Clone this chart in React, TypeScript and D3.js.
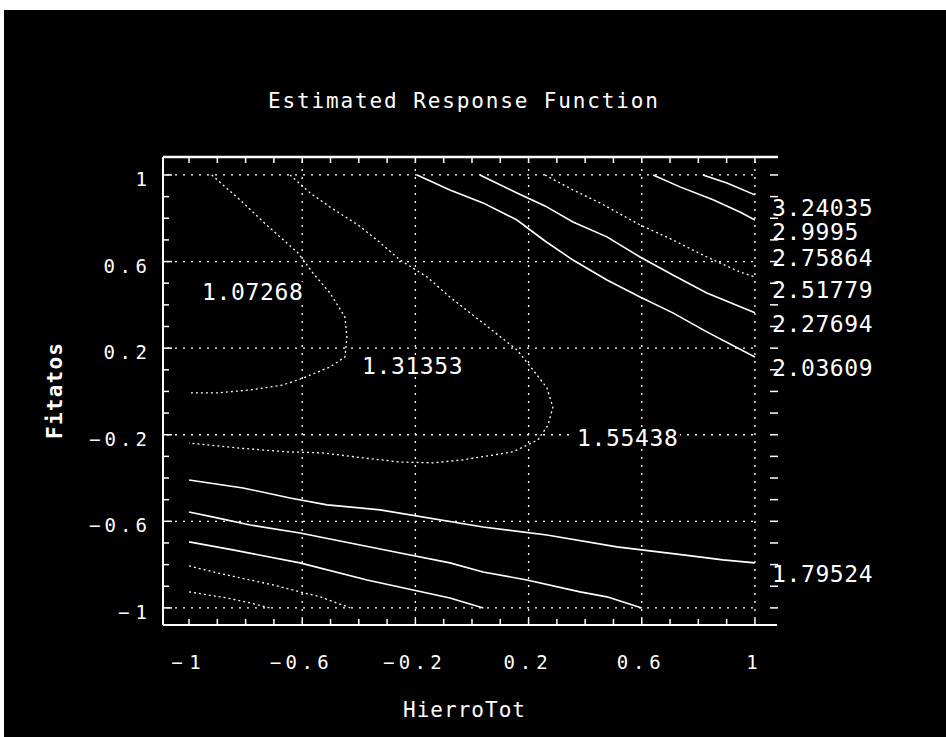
import * as d3 from 'd3';

// Axis ticks
const xTickValues = [-1, -0.6, -0.2, 0.2, 0.6, 1];
const yTickValues = [1, 0.6, 0.2, -0.2, -0.6, -1];
const xGridValues = [-0.6, -0.2, 0.2, 0.6, 1];
const yGridValues = [1, 0.6, 0.2, -0.2, -0.6, -1];
const minorTickValues = [-1, -0.9, -0.8, -0.7, -0.6, -0.5, -0.4, -0.3, -0.2, -0.1, 0, 0.1, 0.2, 0.3, 0.4, 0.5, 0.6, 0.7, 0.8, 0.9, 1];

// Contour traces: [HierroTot, Fitatos]
const contourA: [number, number][] = [
  [-0.92, 1.0], [-0.82, 0.885], [-0.73, 0.774], [-0.615, 0.64], [-0.562, 0.547], [-0.502, 0.455],
  [-0.449, 0.344], [-0.442, 0.252], [-0.449, 0.159], [-0.502, 0.113], [-0.597, 0.062], [-0.668, 0.03],
  [-0.784, 0.007], [-0.901, -0.007], [-1.0, -0.007],
];
const contourB: [number, number][] = [
  [-0.643, 1.0], [-0.572, 0.917], [-0.502, 0.852], [-0.403, 0.769], [-0.336, 0.7], [-0.254, 0.607],
  [-0.159, 0.529], [-0.078, 0.436], [0.039, 0.316], [0.159, 0.192], [0.216, 0.099], [0.265, 0.016],
  [0.286, -0.072], [0.269, -0.155], [0.233, -0.224], [0.145, -0.279], [-0.032, -0.316], [-0.138, -0.33],
  [-0.254, -0.326], [-0.385, -0.307], [-0.527, -0.284], [-0.654, -0.279], [-0.83, -0.261],
  [-0.936, -0.247], [-1.0, -0.238],
];
const contourU1: [number, number][] = [
  [-0.194, 1.0], [-0.078, 0.931], [0.039, 0.871], [0.159, 0.792], [0.258, 0.695], [0.357, 0.607],
  [0.477, 0.515], [0.594, 0.436], [0.71, 0.363], [0.83, 0.275], [1.0, 0.159],
];
const contourU2: [number, number][] = [
  [0.028, 1.0], [0.159, 0.917], [0.258, 0.857], [0.357, 0.783], [0.477, 0.714], [0.594, 0.621],
  [0.71, 0.538], [0.83, 0.455], [1.0, 0.363],
];
const contourU3: [number, number][] = [
  [0.258, 1.0], [0.357, 0.931], [0.452, 0.871], [0.594, 0.769], [0.71, 0.7], [0.83, 0.621],
  [0.947, 0.552], [1.0, 0.529],
];
const contourU4: [number, number][] = [
  [0.64, 1.0], [0.735, 0.945], [0.852, 0.885], [0.947, 0.829], [1.0, 0.792],
];
const contourU5: [number, number][] = [
  [0.816, 1.0], [0.901, 0.963], [1.0, 0.908],
];
const contourL1: [number, number][] = [
  [-1.0, -0.409], [-0.809, -0.446], [-0.643, -0.492], [-0.512, -0.524], [-0.325, -0.547],
  [0.039, -0.626], [0.265, -0.663], [0.512, -0.718], [0.746, -0.755], [0.887, -0.778], [1.0, -0.792],
];
const contourL2: [number, number][] = [
  [-1.0, -0.557], [-0.901, -0.584], [-0.784, -0.617], [-0.608, -0.654], [-0.431, -0.7],
  [-0.254, -0.746], [-0.078, -0.792], [0.039, -0.834], [0.194, -0.871], [0.382, -0.926],
  [0.477, -0.949], [0.6, -1.0],
];
const contourL3: [number, number][] = [
  [-1.0, -0.695], [-0.845, -0.732], [-0.608, -0.792], [-0.371, -0.871], [-0.208, -0.917],
  [-0.078, -0.954], [0.04, -1.0],
];
const contourL4: [number, number][] = [
  [-1.0, -0.806], [-0.901, -0.838], [-0.784, -0.871], [-0.703, -0.894], [-0.537, -0.949], [-0.43, -1.0],
];
const contourL5: [number, number][] = [
  [-1.0, -0.926], [-0.866, -0.954], [-0.784, -0.977], [-0.714, -1.0],
];

// Contour level labels and where they sit (data coords, left edge / middle)
const labelText = ['1.07268', '1.31353', '1.55438', '3.24035', '2.9995', '2.75864', '2.51779', '2.27694', '2.03609', '1.79524'];
const labelX = [-0.954, -0.389, 0.371, 1.06, 1.06, 1.06, 1.06, 1.06, 1.06, 1.06];
const labelY = [0.46, 0.118, -0.215, 0.852, 0.737, 0.621, 0.473, 0.312, 0.109, -0.843];

const faintLines = [contourA, contourB, contourU3, contourL4, contourL5];
const brightLines = [contourU1, contourU2, contourU4, contourU5, contourL1, contourL2, contourL3];

const MONO = "'DejaVu Sans Mono', 'Liberation Mono', monospace";

export default function App() {
  const left = 163, right = 777, top = 157, bottom = 625;

  const xScale = d3.scaleLinear().domain([-1.092, 1.078]).range([left, right]);
  const yScale = d3.scaleLinear().domain([-1.079, 1.083]).range([bottom, top]);

  const line = d3.line<[number, number]>()
    .x((d) => xScale(d[0]))
    .y((d) => yScale(d[1]));

  const fmt = (v: number) => d3.format('~g')(v).replace('-', '\u2212');

  return (
    <svg width={946} height={737} style={{ position: 'absolute', left: 0, top: 0, background: '#fff' }}>
      <rect x={4} y={10} width={942} height={727} fill="#000" />

      {/* title */}
      <text x={463} y={108} fill="#fff" fontFamily={MONO} fontSize={21} textAnchor="middle"
        textLength={390} lengthAdjust="spacing">Estimated Response Function</text>

      {/* grid */}
      {xGridValues.map((v) => (
        <line key={'gx' + v} x1={xScale(v)} x2={xScale(v)} y1={top + 4} y2={bottom}
          stroke="#fff" strokeWidth={1.3} strokeDasharray="2,6" />
      ))}
      {yGridValues.map((v) => (
        <line key={'gy' + v} x1={left + 4} x2={xScale(1)} y1={yScale(v)} y2={yScale(v)}
          stroke="#fff" strokeWidth={1.3} strokeDasharray="2,6" />
      ))}

      {/* contours */}
      {faintLines.map((pts, i) => (
        <path key={'f' + i} d={line(pts) ?? ''} fill="none" stroke="#fff" strokeWidth={1.3}
          strokeDasharray="2,3" />
      ))}
      {brightLines.map((pts, i) => (
        <path key={'b' + i} d={line(pts) ?? ''} fill="none" stroke="#fff" strokeWidth={1.6} />
      ))}

      {/* frame */}
      <line x1={left} x2={left} y1={top} y2={bottom} stroke="#fff" strokeWidth={2} />
      <line x1={left} x2={right + 1} y1={top} y2={top} stroke="#fff" strokeWidth={2.5} />
      <line x1={left} x2={right} y1={bottom} y2={bottom} stroke="#fff" strokeWidth={2} />

      {minorTickValues.map((v) => {
        const major = yTickValues.includes(v);
        return (
          <g key={'t' + v}>
            <line x1={left} x2={left + (major ? 9 : 6)} y1={yScale(v)} y2={yScale(v)} stroke="#fff" strokeWidth={1.5} />
            <line x1={right - 7} x2={right + 1} y1={yScale(v)} y2={yScale(v)} stroke="#fff" strokeWidth={1.5} />
            <line x1={xScale(v)} x2={xScale(v)} y1={top} y2={top + 6} stroke="#fff" strokeWidth={1.5} />
            <line x1={xScale(v)} x2={xScale(v)} y1={bottom} y2={bottom - 6} stroke="#fff" strokeWidth={1.5} />
          </g>
        );
      })}

      {/* tick labels */}
      {yTickValues.map((v) => {
        const s = fmt(v);
        return (
          <text key={'yl' + v} x={147} y={yScale(v) + 11} fill="#fff" fontFamily={MONO} fontSize={19}
            textAnchor="end" textLength={s.length * 14.5} lengthAdjust="spacing">{s}</text>
        );
      })}
      {xTickValues.map((v) => {
        const s = fmt(v);
        return (
          <text key={'xl' + v} x={xScale(v) - 3} y={669} fill="#fff" fontFamily={MONO} fontSize={19}
            textAnchor="middle" textLength={s.length * 14.7} lengthAdjust="spacing">{s}</text>
        );
      })}

      {/* axis titles */}
      <text x={464} y={717} fill="#fff" fontFamily={MONO} fontSize={21} textAnchor="middle"
        textLength={122} lengthAdjust="spacing">HierroTot</text>
      <text transform="translate(62,391) rotate(-90)" fill="#fff" fontFamily={MONO} fontSize={21}
        fontWeight="bold" textAnchor="middle" textLength={96} lengthAdjust="spacing">Fitatos</text>

      {/* contour labels */}
      {labelText.map((s, i) => {
        const x = xScale(labelX[i]);
        const y = yScale(labelY[i]);
        const w = s.length * 14.4;
        const inside = labelX[i] < 1;
        return (
          <g key={'cl' + i}>
            {inside && <rect x={x - 2} y={y - 10} width={w + 4} height={20} fill="#000" />}
            <text x={x} y={y + 8.5} fill="#fff" fontFamily={MONO} fontSize={23}
              textLength={w} lengthAdjust="spacing">{s}</text>
          </g>
        );
      })}
    </svg>
  );
}
